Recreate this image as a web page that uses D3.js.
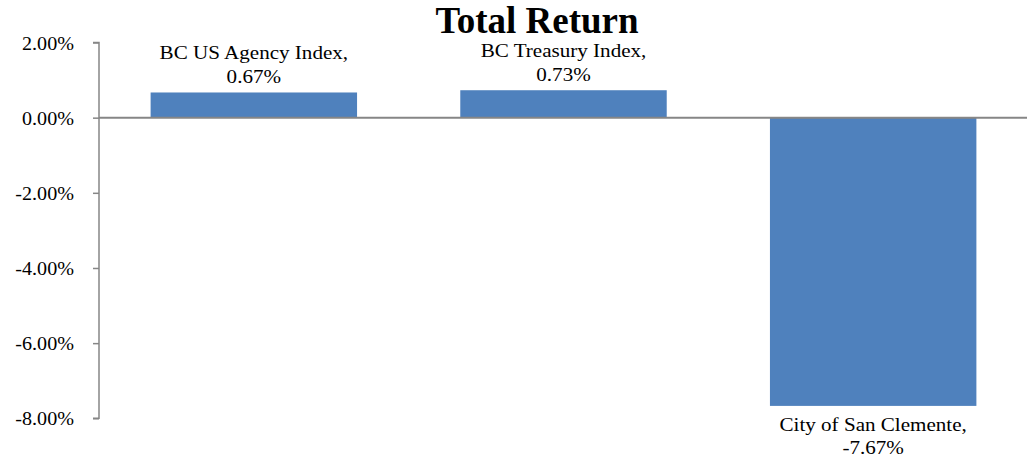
<!DOCTYPE html>
<html>
<head>
<meta charset="utf-8">
<script src="https://cdn.jsdelivr.net/npm/d3@7"></script>
<style>
  body { margin: 0; background: #fff; }
  svg text { font-family: "Liberation Serif", "Times New Roman", serif !important; fill: #000; }
</style>
</head>
<body>
<script>
// chart data
let names = ['BC US Agency Index', 'BC Treasury Index', 'City of San Clemente'];
let returns = [0.67, 0.73, -7.67];
let ticks = [2, 0, -2, -4, -6, -8];

window.onload = function() {
  draw();
};

function draw() {

  let width = 1027;
  let height = 458;
  let margin = {top: 42.5, left: 99, right: 0};
  let plotH = 375.8;

  let svg = d3.select('body')
     .append('svg')
     .attr('width', width)
     .attr('height', height);

  // scales
  let x = d3.scaleBand()
     .domain(names)
     .range([margin.left, 1028])
     .paddingInner(1 / 3)
     .paddingOuter(1 / 6);

  let y = d3.scaleLinear()
     .domain([2, -8])
     .range([margin.top, margin.top + plotH]);

  // y axis
  let yAxis = svg.append('g')
     .attr('transform', `translate(${margin.left},0)`)
     .call(d3.axisLeft(y)
        .tickValues(ticks)
        .tickSize(6)
        .tickPadding(0)
        .tickFormat(d => d.toFixed(2) + '%'));

  yAxis.select('.domain')
     .attr('stroke', '#868686')
     .attr('stroke-width', 1.5)
     .attr('d', `M-6,${y(2)}H0V${y(-8)}H-6`);
  yAxis.selectAll('.tick line')
     .attr('stroke', '#868686')
     .attr('stroke-width', 1.5);
  yAxis.selectAll('.tick text')
     .attr('x', null)
     .attr('dy', '0.35em')
     .attr('transform', 'translate(-25,0) scale(1.06,1)')
     .style('font-size', '19px');

  // bars
  svg.selectAll('rect.bar')
     .data(returns)
     .enter()
     .append('rect')
     .attr('class', 'bar')
     .attr('x', (d, i) => x(names[i]))
     .attr('width', x.bandwidth())
     .attr('y', d => y(Math.max(0, d)))
     .attr('height', d => Math.abs(y(d) - y(0)))
     .attr('fill', '#4F81BD');

  // zero line
  svg.append('line')
     .attr('x1', margin.left)
     .attr('x2', width)
     .attr('y1', y(0))
     .attr('y2', y(0))
     .attr('stroke', '#868686')
     .attr('stroke-width', 2);

  // data labels
  let labels = svg.selectAll('text.label')
     .data(returns)
     .enter()
     .append('text')
     .attr('class', 'label')
     .attr('text-anchor', 'middle')
     .style('font-size', '19px')
     .attr('transform', function(d, i) {
       let cx = x(names[i]) + x.bandwidth() / 2;
       let top = d >= 0 ? y(d) - 33 : y(d) + 25;
       return `translate(${cx},${top}) scale(1.11,1)`;
     });

  labels.append('tspan')
     .attr('x', 0)
     .attr('y', 0)
     .text((d, i) => names[i] + ',');
  labels.append('tspan')
     .attr('x', 0)
     .attr('y', 23.5)
     .text(d => d.toFixed(2) + '%');

  // title
  svg.append('text')
     .attr('x', 537)
     .attr('y', 33)
     .attr('text-anchor', 'middle')
     .style('font-size', '37px')
     .style('font-weight', 'bold')
     .text('Total Return');
}
</script>
</body>
</html>
